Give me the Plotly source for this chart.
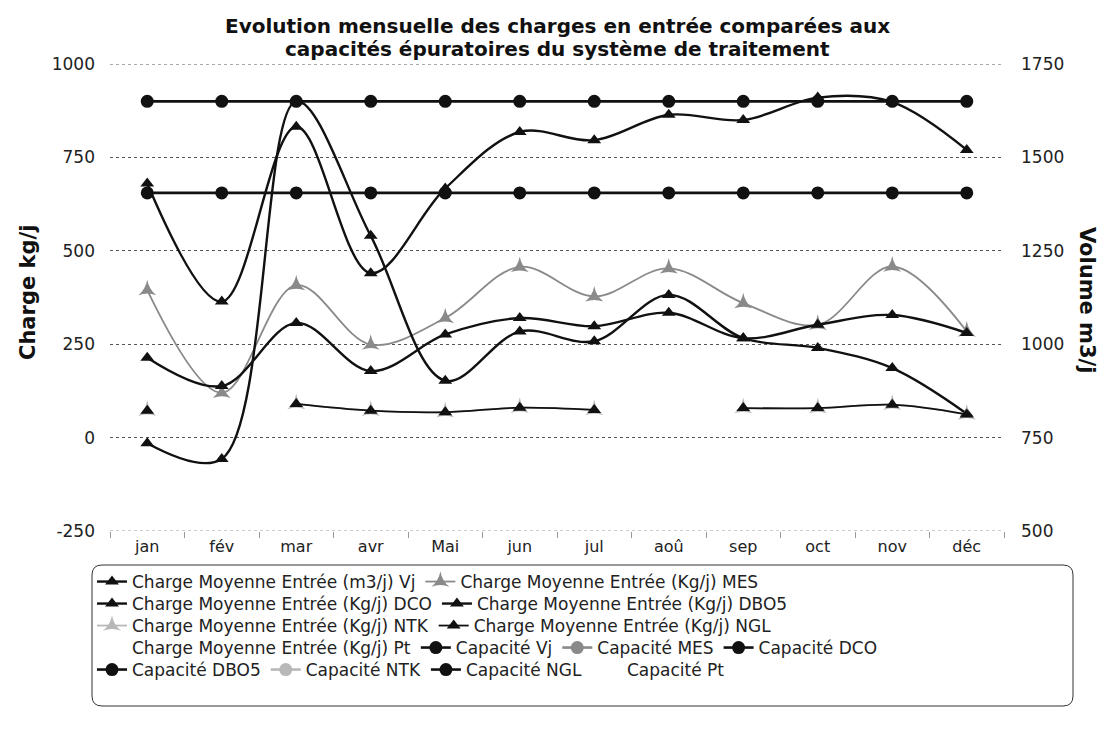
import plotly.graph_objects as go

# Months of the year (category axis)
months = ["jan", "fév", "mar", "avr", "Mai", "jun", "jul", "aoû", "sep", "oct", "nov", "déc"]

# Average inflow loads
charge_vj = [1430, 1114, 1582, 1190, 1417, 1568, 1546, 1614, 1600, 1660, 1648, 1520]   # m3/j (right axis)
charge_mes = [395, 120, 408, 249, 320, 457, 378, 453, 360, 302, 458, 284]              # kg/j
charge_dco = [-15, -57, 900, 540, 152, 284, 258, 382, 266, 240, 186, 64]               # kg/j
charge_dbo5 = [214, 138, 307, 178, 276, 320, 298, 334, 266, 302, 328, 280]             # kg/j
charge_ntk = [72, None, 90, 72, 68, 80, 74, None, 79, 79, 88, 62]                      # kg/j
charge_ngl = [72, None, 90, 72, 68, 80, 74, None, 79, 79, 88, 62]                      # kg/j
charge_pt = [None] * 12                                                                # kg/j

# Treatment capacities
cap_vj = [1650] * 12      # m3/j (right axis)
cap_mes = [None] * 12
cap_dco = [655] * 12      # kg/j
cap_dbo5 = [None] * 12
cap_ntk = [None] * 12
cap_ngl = [None] * 12
cap_pt = [None] * 12

# Axis ticks
left_ticks = [-250, 0, 250, 500, 750, 1000]
left_labels = ["-250", "0", "250", "500", "750", "1000"]
right_ticks = [500, 750, 1000, 1250, 1500, 1750]

BLACK = "#111111"
GREY = "#8a8a8a"
LIGHT = "#b8b8b8"
FONT = "DejaVu Sans"

# Figure geometry (pixels)
W, H = 1106, 729
ML, MR, MT, MB = 110, 102, 64, 198
PW, PH = W - ML - MR, H - MT - MB


def px_x(x):
    return (x - ML) / PW


def px_y(y):
    return (H - MB - y) / PH


fig = go.Figure()


def load_trace(name, values, color, symbol, legend, axis="y", width=2.4, msize=12):
    fig.add_trace(go.Scatter(
        x=months, y=values, name=name, yaxis=axis, legend=legend,
        mode="lines+markers",
        line=dict(color=color, width=width, shape="spline", smoothing=1.0),
        marker=dict(symbol=symbol, size=msize, color=color),
        connectgaps=False,
    ))


def capacity_trace(name, values, color, legend, axis="y", visible_line=True):
    fig.add_trace(go.Scatter(
        x=months, y=values, name=name, yaxis=axis, legend=legend,
        mode="lines+markers" if visible_line else "lines",
        line=dict(color=color if visible_line else "rgba(0,0,0,0)", width=2.6),
        marker=dict(symbol="circle", size=13, color=color),
    ))


load_trace("Charge Moyenne Entrée (m3/j) Vj", charge_vj, BLACK, "triangle-up", "legend", axis="y2")
load_trace("Charge Moyenne Entrée (Kg/j) MES", charge_mes, GREY, "star-triangle-up", "legend", width=1.8, msize=13)
load_trace("Charge Moyenne Entrée (Kg/j) DCO", charge_dco, BLACK, "triangle-up", "legend2")
load_trace("Charge Moyenne Entrée (Kg/j) DBO5", charge_dbo5, BLACK, "triangle-up", "legend2")
load_trace("Charge Moyenne Entrée (Kg/j) NTK", charge_ntk, LIGHT, "star-triangle-up", "legend3", width=1.8, msize=13)
load_trace("Charge Moyenne Entrée (Kg/j) NGL", charge_ngl, BLACK, "triangle-up", "legend3", width=1.8)
fig.add_trace(go.Scatter(
    x=months, y=charge_pt, name="Charge Moyenne Entrée (Kg/j) Pt", legend="legend4",
    mode="lines", line=dict(color="rgba(0,0,0,0)", width=1),
))
capacity_trace("Capacité Vj", cap_vj, BLACK, "legend4", axis="y2")
capacity_trace("Capacité MES", cap_mes, GREY, "legend4")
capacity_trace("Capacité DCO", cap_dco, BLACK, "legend4")
capacity_trace("Capacité DBO5", cap_dbo5, BLACK, "legend5")
capacity_trace("Capacité NTK", cap_ntk, LIGHT, "legend5")
capacity_trace("Capacité NGL", cap_ngl, BLACK, "legend5")
capacity_trace("Capacité Pt", cap_pt, BLACK, "legend5", visible_line=False)

# One horizontal legend per row so each row keeps its natural item widths
legend_rows = {}
row_centres = [582, 604, 626, 648, 670]
for i, yc in enumerate(row_centres):
    key = "legend" if i == 0 else f"legend{i + 1}"
    legend_rows[key] = dict(
        orientation="h",
        x=px_x(92), xanchor="left",
        y=px_y(yc), yanchor="middle",
        bgcolor="rgba(0,0,0,0)", borderwidth=0,
        font=dict(family=FONT, size=17, color="#222222"),
        itemwidth=30, tracegroupgap=0, traceorder="normal",
    )

# Rounded frame around the legend rows
x0, x1, y0, y1, r = px_x(92), px_x(1073), px_y(565), px_y(706), 10
rx, ry = r / PW, r / PH
frame = (
    f"M {x0 + rx},{y0} L {x1 - rx},{y0} Q {x1},{y0} {x1},{y0 - ry} "
    f"L {x1},{y1 + ry} Q {x1},{y1} {x1 - rx},{y1} "
    f"L {x0 + rx},{y1} Q {x0},{y1} {x0},{y1 + ry} "
    f"L {x0},{y0 - ry} Q {x0},{y0} {x0 + rx},{y0} Z"
)

shapes = [
    dict(type="path", path=frame, xref="paper", yref="paper",
         line=dict(color="#333333", width=1)),
    # top and bottom gridlines at the ends of the value range
    dict(type="line", xref="paper", yref="y", x0=0, x1=1, y0=1000, y1=1000,
         line=dict(color="#555555", width=1, dash="dot")),
    dict(type="line", xref="paper", yref="y", x0=0, x1=1, y0=-250, y1=-250,
         line=dict(color="#999999", width=1, dash="dot")),
]

annotations = [
    dict(text="<b>Evolution mensuelle des charges en entrée comparées aux</b>",
         x=0.5, y=px_y(26), xref="paper", yref="paper",
         xanchor="center", yanchor="middle",
         showarrow=False, font=dict(family=FONT, size=20, color="#111111")),
    dict(text="<b>capacités épuratoires du système de traitement</b>",
         x=0.5, y=px_y(49), xref="paper", yref="paper",
         xanchor="center", yanchor="middle",
         showarrow=False, font=dict(family=FONT, size=20, color="#111111")),
    dict(text="<b>Charge kg/j</b>", x=px_x(28), y=px_y(293), xref="paper", yref="paper",
         xanchor="center", yanchor="middle",
         showarrow=False, textangle=-90, font=dict(family=FONT, size=21, color="#111111")),
    dict(text="<b>Volume m3/j</b>", x=px_x(1087), y=px_y(300), xref="paper", yref="paper",
         xanchor="center", yanchor="middle",
         showarrow=False, textangle=90, font=dict(family=FONT, size=21, color="#111111")),
]

fig.update_layout(
    width=W, height=H,
    paper_bgcolor="white", plot_bgcolor="white",
    margin=dict(l=ML, r=MR, t=MT, b=MB, autoexpand=False),
    font=dict(family=FONT, size=16, color="#222222"),
    xaxis=dict(
        type="category", categoryorder="array", categoryarray=months,
        range=[-0.5, 11.5],
        showgrid=False, showline=False, zeroline=False,
        ticks="outside", tickson="boundaries", ticklen=6, tickcolor="#999999",
        tickfont=dict(family=FONT, size=16, color="#222222"),
        ticklabelstandoff=4,
    ),
    yaxis=dict(
        range=[-250, 1000], tickvals=left_ticks, ticktext=left_labels,
        showgrid=True, gridcolor="#555555", griddash="dot", gridwidth=1,
        zeroline=False, showline=False, ticks="",
        tickfont=dict(family=FONT, size=17, color="#222222"),
        ticklabelstandoff=14,
    ),
    yaxis2=dict(
        range=[500, 1750], tickvals=right_ticks,
        overlaying="y", side="right",
        showgrid=False, zeroline=False, showline=False, ticks="",
        tickfont=dict(family=FONT, size=17, color="#222222"),
        ticklabelstandoff=16,
    ),
    shapes=shapes,
    annotations=annotations,
    **legend_rows,
)

fig.write_html("out.html")
